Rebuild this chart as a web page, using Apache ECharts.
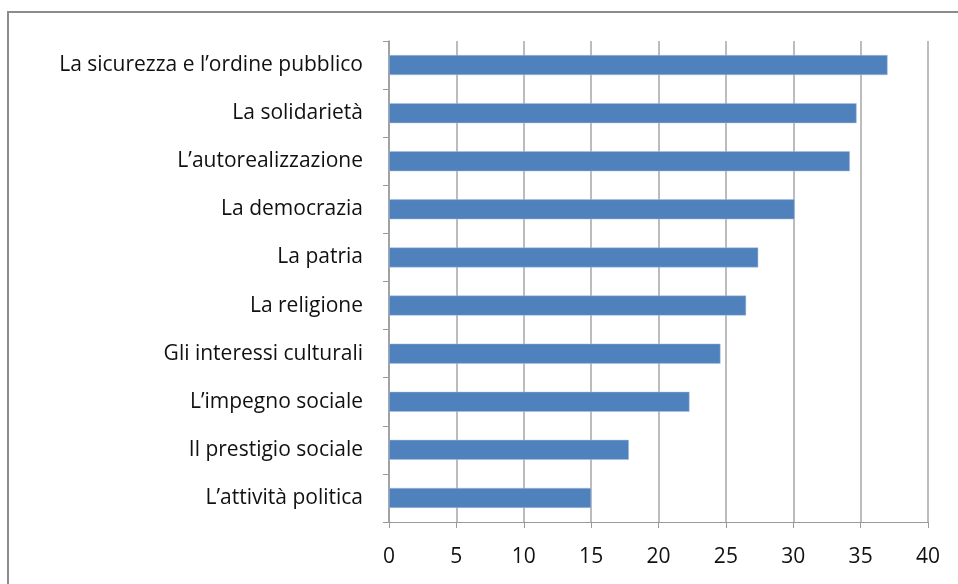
<!DOCTYPE html>
<html>
<head>
<meta charset="utf-8">
<script src="https://cdn.jsdelivr.net/npm/echarts@6/dist/echarts.min.js"></script>
<style>
  html, body { margin: 0; padding: 0; background: #fff; }
  #chart { width: 958px; height: 584px; }
</style>
</head>
<body>
<div id="chart"></div>
<script>
// categories listed bottom to top (category axis starts at the bottom)
const categories = [
    "L’attività politica",
    "Il prestigio sociale",
    "L’impegno sociale",
    "Gli interessi culturali",
    "La religione",
    "La patria",
    "La democrazia",
    "L’autorealizzazione",
    "La solidarietà",
    "La sicurezza e l’ordine pubblico"
];
const values = [15.0, 17.8, 22.3, 24.6, 26.5, 27.4, 30.1, 34.2, 34.7, 37.0];
const xTicks = [0, 5, 10, 15, 20, 25, 30, 35, 40];

const chart = echarts.init(document.getElementById("chart"));
const font = "'Open Sans', 'Noto Sans', sans-serif";
const option = {
    animation: false,
    graphic: [{
        type: 'rect',
        shape: { x: 8, y: 12, width: 1200, height: 1000 },
        style: { fill: 'none', stroke: '#8c8c8c', lineWidth: 2 }
    }],
    grid: {
        left: 389,
        right: 30,
        top: 41,
        bottom: 62
    },
    xAxis: {
        type: 'value',
        min: xTicks[0],
        max: xTicks[xTicks.length - 1],
        interval: 5,
        axisLine: { show: true, lineStyle: { color: '#9a9a9a', width: 1 } },
        axisTick: { show: true, length: 6, lineStyle: { color: '#9a9a9a' } },
        splitLine: { show: true, lineStyle: { color: '#a6a6a6', width: 1.5 } },
        axisLabel: {
            color: '#111',
            fontFamily: font,
            fontSize: 21,
            margin: 25
        }
    },
    yAxis: {
        type: 'category',
        data: categories,
        axisLine: { show: true, lineStyle: { color: '#9a9a9a', width: 1.5 } },
        axisTick: { show: true, length: 6, lineStyle: { color: '#9a9a9a' } },
        axisLabel: {
            color: '#111',
            fontFamily: font,
            fontSize: 21,
            margin: 26
        }
    },
    series: [{
        type: 'bar',
        data: values,
        barWidth: 20,
        itemStyle: {
            color: '#4f81bd',
            borderColor: '#a9c0e0',
            borderWidth: 0.5
        }
    }]
};
chart.setOption(option);
</script>
</body>
</html>
